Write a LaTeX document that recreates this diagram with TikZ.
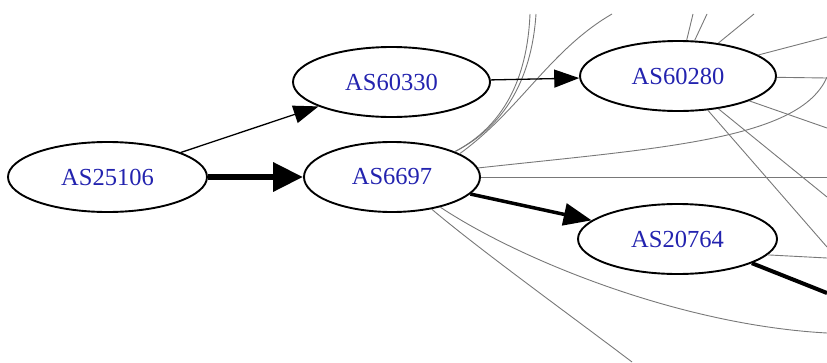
\documentclass[tikz,border=0pt]{standalone}
\usepackage{fontspec}
\setmainfont{Liberation Serif}
\usetikzlibrary{shapes.geometric,arrows.meta}
\definecolor{asblue}{RGB}{35,35,175}
\definecolor{edgegray}{RGB}{120,120,120}
\begin{document}
\begin{tikzpicture}[x=1pt,y=-1pt,
  asnode/.style={ellipse,draw,line width=1.9pt,fill=white,inner sep=0pt,
    minimum height=70pt,text=asblue,font=\fontsize{24.5}{28}\selectfont},
  peer/.style={draw=edgegray,line width=0.9pt},
  thinarrow/.style={line width=1.3pt,-{Triangle[length=25pt,width=18pt]}},
  fatarrow/.style={line width=6.5pt,-{Triangle[length=30pt,width=28pt]}},
  midarrow/.style={line width=3.5pt,-{Triangle[length=28pt,width=22pt]}},
  midline/.style={line width=4pt}]
\useasboundingbox (0,0) rectangle (827,362);

% nodes
\node[asnode,minimum width=199pt] (n25106) at (107.5,177) {AS25106};
\node[asnode,minimum width=197pt] (n60330) at (391.5,82) {AS60330};
\node[asnode,minimum width=176pt] (n6697)  at (392,177) {AS6697};
\node[asnode,minimum width=196pt] (n60280) at (678,76) {AS60280};
\node[asnode,minimum width=199pt] (n20764) at (677.5,239) {AS20764};

% free ends
\coordinate (t1) at (530,14);
\coordinate (t2) at (536,14);
\coordinate (t3) at (612,14);
\coordinate (r1) at (827,77);
\coordinate (r2) at (827,177);
\coordinate (b1) at (827,333);
\coordinate (b2) at (632,362);
\coordinate (u1) at (693,14);
\coordinate (u2) at (707,14);
\coordinate (u3) at (754,14);
\coordinate (s1) at (827,37);
\coordinate (s2) at (827,78);
\coordinate (s3) at (827,128);
\coordinate (d1) at (827,247);
\coordinate (d2) at (827,197);
\coordinate (e1) at (827,258);
\coordinate (e2) at (827,293);

% gray edges from AS6697
\draw[peer] (n6697.22) .. controls (515,120) and (528,60) .. (t1);
\draw[peer] (n6697.22) .. controls (517,120) and (533,60) .. (t2);
\draw[peer] (n6697.19) .. controls (520,110) and (550,50) .. (t3);
\draw[peer] (n6697.6) .. controls (660,148) and (800,140) .. (r1);
\draw[peer] (n6697.east) -- (r2);
\draw[peer] (n6697.-32) .. controls (520,260) and (680,325) .. (b1);
\draw[peer] (n6697.-39) .. controls (480,250) and (570,315) .. (b2);

% gray edges from AS60280
\draw[peer] (n60280) -- (u1);
\draw[peer] (n60280) -- (u2);
\draw[peer] (n60280) -- (u3);
\draw[peer] (n60280) -- (s1);
\draw[peer] (n60280) -- (s2);
\draw[peer] (n60280) -- (s3);
\draw[peer] (n60280) -- (d1);
\draw[peer] (n60280) -- (d2);

% gray edge from AS20764
\draw[peer] (n20764.-10) -- (e1);

% black edges
\draw[thinarrow] (n25106) -- (n60330);
\draw[fatarrow] (n25106) -- (n6697);
\draw[thinarrow] (n60330) -- (n60280);
\draw[midarrow] (n6697) -- (n20764);
\draw[midline] (n20764.-18) -- (e2);
\end{tikzpicture}
\end{document}
